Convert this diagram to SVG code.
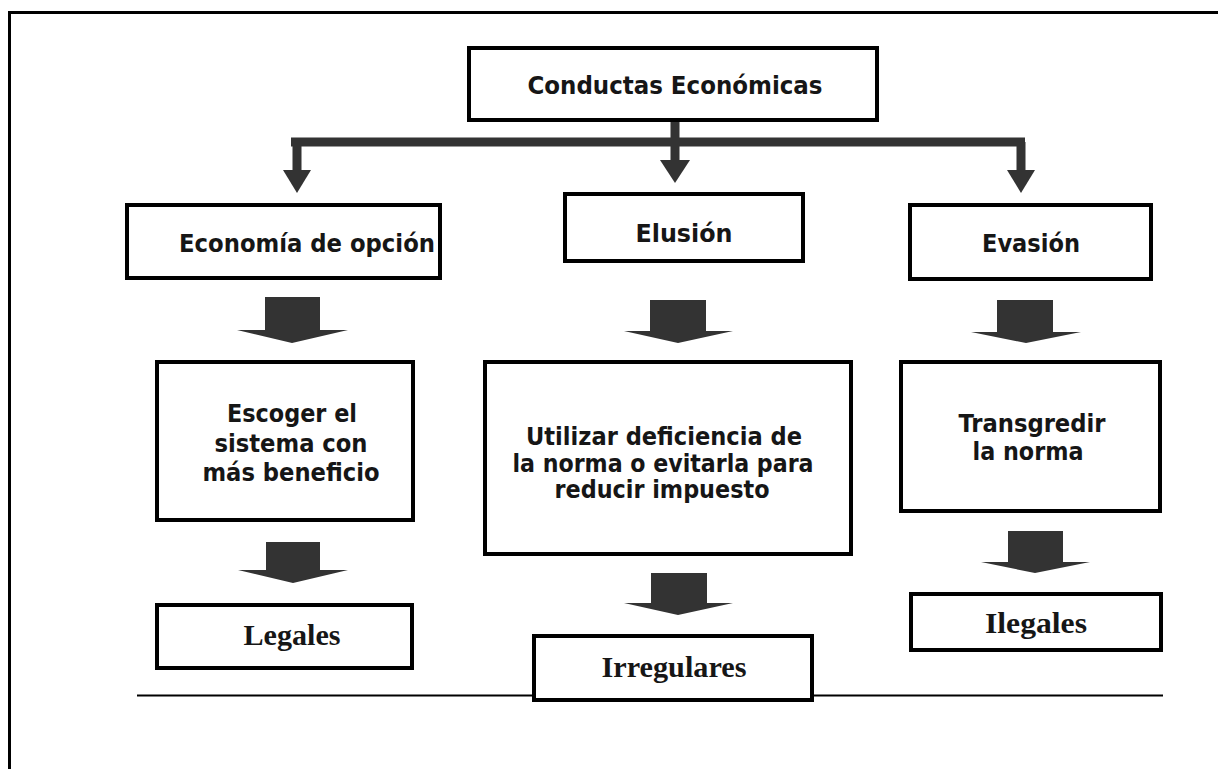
<svg xmlns="http://www.w3.org/2000/svg" width="1218" height="769" viewBox="0 0 1218 769">
<style>
.box{fill:#fff;stroke:#000;stroke-width:4}
.t{font-family:"DejaVu Sans Condensed","DejaVu Sans",sans-serif;font-weight:bold;font-size:24px;fill:#161616;text-anchor:middle}
.s{font-family:"Liberation Serif",serif;font-weight:bold;font-size:29px;fill:#161616;text-anchor:middle}
.bar{fill:none;stroke:#333;stroke-width:9}
.ba{fill:#333}
</style>
<rect width="1218" height="769" fill="#fff"/>
<path d="M9.5,769 V12.5 H1218" fill="none" stroke="#000" stroke-width="3"/>
<line x1="137" y1="695.5" x2="1163" y2="695.5" stroke="#000" stroke-width="2"/>
<g id="connectors">
<path class="bar" d="M675,121 V162 M291,142 H1025 M297,142 V172 M1021,142 V172"/>
<polygon class="ba" points="660,160 690,160 675,183"/>
<polygon class="ba" points="283,170 311,170 297,193"/>
<polygon class="ba" points="1007,170 1035,170 1021,193"/>
<polygon class="ba" points="265,297 320,297 320,330 348,330 292,343 237,330 265,330"/>
<polygon class="ba" points="650,300 706,300 706,331 733,331 678,343 624,331 650,331"/>
<polygon class="ba" points="997,300 1053,300 1053,332 1081,332 1026,343 971,332 997,332"/>
<polygon class="ba" points="266,542 320,542 320,570 348,570 293,583 238,570 266,570"/>
<polygon class="ba" points="651,573 707,573 707,603 733,603 678,615 624,603 651,603"/>
<polygon class="ba" points="1008,531 1063,531 1063,562 1090,562 1035,573 981,562 1008,562"/>
</g>
<g id="conductas">
<rect class="box" x="469" y="48" width="408" height="72"/>
<text class="t" x="675" y="94" textLength="295" lengthAdjust="spacingAndGlyphs">Conductas Económicas</text>
</g>
<g id="economia">
<rect class="box" x="127" y="205" width="313" height="73"/>
<text class="t" x="307" y="252" textLength="256" lengthAdjust="spacingAndGlyphs">Economía de opción</text>
</g>
<g id="elusion">
<rect class="box" x="565" y="194" width="238" height="67"/>
<text class="t" x="684" y="242" textLength="97" lengthAdjust="spacingAndGlyphs">Elusión</text>
</g>
<g id="evasion">
<rect class="box" x="910" y="205" width="241" height="74"/>
<text class="t" x="1031" y="252" textLength="98" lengthAdjust="spacingAndGlyphs">Evasión</text>
</g>
<g id="escoger">
<rect class="box" x="157" y="362" width="256" height="158"/>
<text class="t" x="292" y="422" textLength="130" lengthAdjust="spacingAndGlyphs">Escoger el</text>
<text class="t" x="291" y="452" textLength="153" lengthAdjust="spacingAndGlyphs">sistema con</text>
<text class="t" x="291" y="481" textLength="177" lengthAdjust="spacingAndGlyphs">más beneficio</text>
</g>
<g id="utilizar">
<rect class="box" x="485" y="362" width="366" height="192"/>
<text class="t" x="664" y="445" textLength="276" lengthAdjust="spacingAndGlyphs">Utilizar deficiencia de</text>
<text class="t" x="663" y="472" textLength="301" lengthAdjust="spacingAndGlyphs">la norma o evitarla para</text>
<text class="t" x="662" y="498" textLength="215" lengthAdjust="spacingAndGlyphs">reducir impuesto</text>
</g>
<g id="transgredir">
<rect class="box" x="901" y="362" width="259" height="149"/>
<text class="t" x="1032" y="432" textLength="147" lengthAdjust="spacingAndGlyphs">Transgredir</text>
<text class="t" x="1028" y="460" textLength="111" lengthAdjust="spacingAndGlyphs">la norma</text>
</g>
<g id="legales">
<rect class="box" x="157" y="605" width="255" height="63"/>
<text class="s" x="292" y="645" textLength="97" lengthAdjust="spacingAndGlyphs">Legales</text>
</g>
<g id="irregulares">
<rect class="box" x="534" y="636" width="278" height="64"/>
<text class="s" x="674" y="677" textLength="145" lengthAdjust="spacingAndGlyphs">Irregulares</text>
</g>
<g id="ilegales">
<rect class="box" x="911" y="594" width="250" height="56"/>
<text class="s" x="1036" y="633" textLength="102" lengthAdjust="spacingAndGlyphs">Ilegales</text>
</g>
</svg>
